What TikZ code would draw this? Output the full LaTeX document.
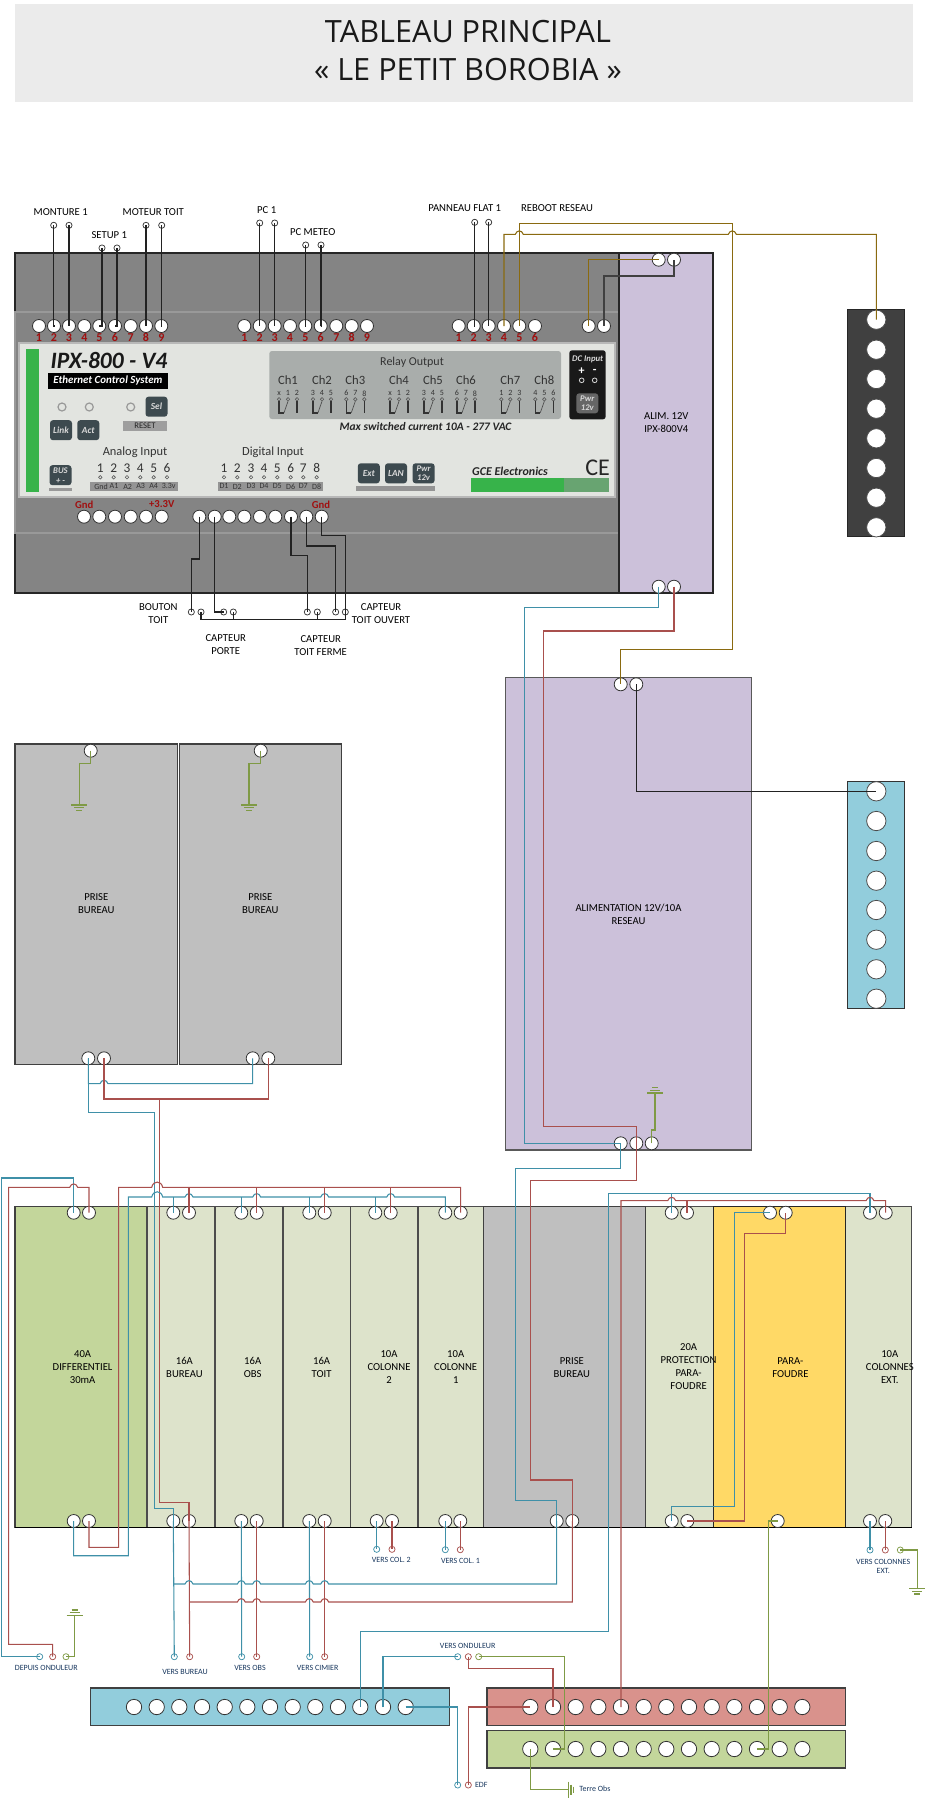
\documentclass[tikz,border=0pt]{standalone}
\usepackage{fontspec}
\setmainfont{Carlito}
\newfontfamily\titlefont{Open Sans}
\definecolor{cBlue}{HTML}{3F90A8}
\definecolor{cRed}{HTML}{A9504D}
\definecolor{cGreen}{HTML}{7F9A45}
\definecolor{cBrown}{HTML}{8A6A10}
\definecolor{cBlack}{HTML}{222222}
\definecolor{fPurple}{HTML}{CCC1DA}
\definecolor{fLight}{HTML}{DDE3CB}
\definecolor{fGreen}{HTML}{C3D69B}
\definecolor{fGrey}{HTML}{BFBFBF}
\definecolor{fYellow}{HTML}{FFD966}
\definecolor{fAqua}{HTML}{92CDDC}
\definecolor{fRose}{HTML}{D9928C}
\definecolor{fDark}{HTML}{404040}
\definecolor{fBody}{HTML}{848484}
\definecolor{fPanel}{HTML}{E2E4E0}
\definecolor{fRelay}{HTML}{A9ADAB}
\definecolor{fBar}{HTML}{37B34A}
\definecolor{fBtn}{HTML}{3D4A4F}
\definecolor{cNum}{HTML}{A01010}
\definecolor{cSmall}{HTML}{17365D}
\tikzset{
  wire/.style={line width=.8pt,line join=miter},
  wblue/.style={wire,draw=cBlue},
  wred/.style={wire,draw=cRed},
  wgreen/.style={wire,draw=cGreen},
  wbrown/.style={wire,draw=cBrown},
  wblack/.style={wire,draw=cBlack},
  boxst/.style={draw=black!75,line width=.8pt},
  term/.style={circle,draw=black!80,fill=white,line width=.6pt,minimum size=9.75pt,inner sep=0pt,outer sep=0pt},
  termb/.style={term,minimum size=11.5pt},
  termc/.style={term,draw=black,minimum size=14.5pt},
  sm/.style={circle,fill=white,line width=.55pt,minimum size=4.6pt,inner sep=0pt,outer sep=0pt},
  lab/.style={font=\fontsize{8}{9.75}\selectfont,align=center,inner sep=0pt,text=black},
  slab/.style={font=\fontsize{6}{6.9}\selectfont,align=center,inner sep=0pt,text=cSmall},
  num/.style={font=\fontsize{9}{9}\selectfont\bfseries,text=cNum,inner sep=0pt},
  pan/.style={inner sep=0pt,text=black!80},
  btn/.style={rounded corners=2.2pt,fill=fBtn,minimum width=16.5pt,minimum height=15pt,inner sep=0pt,text=white!85!black,align=center,font=\fontsize{7}{7}\selectfont\bfseries\itshape},
  led/.style={circle,draw=black!40,fill=fPanel,line width=.9pt,minimum size=6pt,inner sep=0pt},
  pin/.style={circle,draw=black!65,line width=.45pt,minimum size=2.6pt,inner sep=0pt},
}
\def\J#1#2{-- ({#1-4},#2) .. controls ({#1-2.5},{#2-4.5}) and ({#1+2.5},{#2-4.5}) .. ({#1+4},#2)}
\def\JL#1#2#3{-- (#1,#3) .. controls ({#1+1.5},{#3-7}) and ({#2-1.5},{#3-7}) .. (#2,#3)}
\begin{document}
\begin{tikzpicture}[x=0.75pt,y=-0.75pt]
\useasboundingbox (0,0) rectangle (926,1799);
% title
\fill[black!8] (15,4) rectangle (913,102);
\node[inner sep=0pt,align=center,font=\titlefont\fontsize{23}{28.4}\selectfont,text=black!90] (title) at (468,50.5) {TABLEAU PRINCIPAL\\« LE PETIT BOROBIA »};

% IPX body
\path[fill=fBody,draw=black!85,line width=.9pt] (15,253) rectangle (620,593);
\path[fill=fBody,draw=black!40,line width=.8pt] (15,312) rectangle (620,533);
\path[fill=fPanel,draw=black!28,line width=.8pt] (19,343) rectangle (615,497);
\fill[fBar] (26,349.3) rectangle (39.3,491.7);
\node[pan,font=\fontsize{17.6}{18}\selectfont\bfseries\itshape,text=black!90] (nIpx) at (109,360) {IPX-800 - V4};
\node[fill=black,minimum width=90.5pt,minimum height=11.7pt,inner sep=0pt,font=\fontsize{8.2}{9}\selectfont\bfseries\itshape,text=white] (nEth) at (108,381) {Ethernet Control System};
\node[led] (l1) at (62,407) {};
\node[led] (l2) at (89.3,407) {};
\node[led] (l3) at (130.7,407) {};
\node[btn] (bSel) at (156.5,406.7) {Sel};
\node[fill=black!38,minimum width=33.5pt,minimum height=7.2pt,inner sep=0pt,font=\fontsize{6.5}{7}\selectfont,text=black!85] (nRes) at (145,425.8) {RESET};
\node[btn] (bLink) at (61,430.2) {Link};
\node[btn] (bAct) at (88.3,430.2) {Act};
\node[btn,font=\fontsize{6.5}{7.5}\selectfont\bfseries\itshape] (bBus) at (60.5,475.2) {BUS\\+ -};
\fill[black!40] (49.3,488.3) rectangle (71.7,491);
\node[pan,font=\fontsize{9.3}{11}\selectfont] (nAna) at (135,452.7) {Analog Input};
\node[pan,font=\fontsize{9.3}{11}\selectfont] (nDig) at (273,452.7) {Digital Input};
\fill[black!42] (89.7,481.7) rectangle (177.7,491);
\fill[black!42] (218.3,481.7) rectangle (323.3,491);
\foreach \i/\x/\t/\tx in {1/100.3/Gnd/101,2/113.7/A1/114,3/127/A2/127.7,4/140.3/A3/140.7,5/153.7/A4/153.7,6/167/3.3v/168.7}{
  \node[pan,font=\fontsize{10}{10}\selectfont] (an\i) at (\x,468) {\i};
  \node[pin] (ap\i) at (\x,477.3) {};
  \node[pan,font=\fontsize{6}{7}\selectfont] (at\i) at (\tx,486.4) {\t};
}
\foreach \i/\x in {1/224,2/237.3,3/251,4/264,5/277.3,6/290.7,7/303.3,8/316.7}{
  \node[pan,font=\fontsize{10}{10}\selectfont] (dn\i) at (\x,468) {\i};
  \node[pin] (dp\i) at (\x,477.3) {};
  \node[pan,font=\fontsize{6}{7}\selectfont] (dt\i) at (\x,486.4) {D\i};
}
\node[btn] (bExt) at (368.8,473.3) {Ext};
\node[btn] (bLan) at (396,473.3) {LAN};
\node[btn,font=\fontsize{6.5}{7}\selectfont\bfseries\itshape] (bPwr) at (423.6,473.3) {Pwr\\12v};
\fill[black!42] (356,486.3) rectangle (435.3,491.3);
% relay panel
\fill[fRelay,rounded corners=2pt] (269.3,351) rectangle (561,419);
\node[pan,font=\fontsize{9}{11}\selectfont] (nRel) at (412,362) {Relay Output};
\foreach \k/\c/\a/\b/\d in {1/288/x/1/2,2/322/3/4/5,3/355.3/6/7/8,4/399/x/1/2,5/433/3/4/5,6/466/6/7/8,7/510.3/1/2/3,8/544.3/4/5/6}{
  \node[pan,font=\fontsize{9.5}{11}\selectfont] (ch\k) at (\c,380) {Ch\k};
  \node[pan,font=\fontsize{6}{6}\selectfont] (cha\k) at ({\c-9},393.3) {\a};
  \node[pan,font=\fontsize{6}{6}\selectfont] (chb\k) at (\c,393.3) {\b};
  \node[pan,font=\fontsize{6}{6}\selectfont] (chc\k) at ({\c+9},393.3) {\d};
  \node[pin] (rp1\k) at ({\c-9},399.3) {};
  \node[pin] (rp2\k) at (\c,399.3) {};
  \node[pin] (rp3\k) at ({\c+9},399.3) {};
  \draw[black!80,line width=1.2pt] (rp1\k.south) -- ({\c-9},412.7) -- ({\c-4},412.7);
  \draw[black!70,line width=.5pt] ({\c-4},412.7) -- (rp2\k.south);
  \draw[black!80,line width=1.2pt] (rp3\k.south) -- ({\c+9},412.7);
}
\node[pan,font=\fontsize{8.6}{9}\selectfont\bfseries\itshape,text=black!85] (nMax) at (425.5,427) {Max switched current 10A - 277 VAC};
% DC input
\fill[black!90,rounded corners=2pt] (569.3,350.3) rectangle (605.7,419.3);
\node[pan,text=white!85!black,font=\fontsize{6.5}{7}\selectfont\bfseries\itshape] (nDc) at (587.7,359.3) {DC Input};
\node[pan,text=white,font=\fontsize{9}{9}\selectfont\bfseries] (nPl) at (581.7,371.3) {+};
\node[pan,text=white,font=\fontsize{9}{9}\selectfont\bfseries] (nMi) at (594.7,371) {-};
\node[pin,draw=white!85!black,line width=.6pt,minimum size=3.5pt] (dc1) at (581.7,380.3) {};
\node[pin,draw=white!85!black,line width=.6pt,minimum size=3.5pt] (dc2) at (594.7,380.3) {};
\node[btn,fill=black!60,font=\fontsize{6.5}{7}\selectfont\bfseries\itshape] (bP2) at (587.3,403.3) {Pwr\\12v};
\node[pan,font=\fontsize{9}{10}\selectfont\bfseries\itshape,text=black!85] (nGce) at (510,471.7) {GCE Electronics};
\node[pan,font=\fontsize{18}{18}\selectfont,text=black!85] (nCe) at (597.7,468) {CE};
\fill[fBar] (471,478.3) rectangle (564.3,491.7);
\fill[fBar!70!black!70!white] (564.3,478.3) rectangle (609,491.7);

% alim 12V
\path[fill=fPurple,draw=black!85,line width=.9pt] (619,253) rectangle (713,593);
% strips
\path[fill=fDark,draw=black!85,line width=.8pt] (847.7,309.7) rectangle (904.3,536.7);
\path[fill=fAqua,draw=black!80,line width=.8pt] (847.7,781.7) rectangle (904.3,1008.3);
\path[fill=fAqua,draw=black!75,line width=.9pt] (90.3,1688) rectangle (449.3,1725.7);
\path[fill=fRose,draw=black!75,line width=.9pt] (487,1688) rectangle (845.7,1725.7);
\path[fill=fGreen,draw=black!75,line width=.9pt] (487,1730.3) rectangle (845.7,1768);
% alim 10A
\path[fill=fPurple,draw=black!65,line width=.9pt] (505.7,677.7) rectangle (751.3,1150);
% prises
\path[fill=fGrey,draw=black!75,line width=.8pt] (15,744) rectangle (177.7,1064.7);
\path[fill=fGrey,draw=black!75,line width=.8pt] (179.3,744) rectangle (341.7,1064.7);
% main row
\path[fill=fGreen,draw=black!75,line width=.8pt] (15,1206.7) rectangle (147,1527.3);
\foreach \a/\b in {147/215,215/283,283/350.3,350.3/418,418/483.3,645.3/713.3,845.3/911.7}
  \path[fill=fLight,draw=black!70,line width=.8pt] (\a,1206.7) rectangle (\b,1527.3);
\path[fill=fGrey,draw=black!75,line width=.8pt] (483.3,1206.7) rectangle (645.3,1527.3);
\path[fill=fYellow,draw=black!85,line width=.8pt] (713.3,1206.7) rectangle (845.3,1527.3);
\draw[black,line width=.9pt] (15,1527.3) -- (911.7,1527.3);

% terminals
\foreach \i/\x in {1/39,2/54,3/69,4/84.3,5/99.3,6/115,7/130.7,8/146,9/161.3}{\node[term] (a\i) at (\x,326) {};\node[num] (na\i) at (\x,337.5) {\i};}
\foreach \i/\x in {1/244.3,2/259.7,3/274.7,4/290,5/305.3,6/320.7,7/336.3,8/351.7,9/367}{\node[term] (b\i) at (\x,326) {};\node[num] (nb\i) at (\x,337.5) {\i};}
\foreach \i/\x in {1/458.7,2/473.7,3/488.7,4/504,5/519.3,6/535}{\node[term] (c\i) at (\x,326) {};\node[num] (nc\i) at (\x,337.5) {\i};}
\node[term] (p1) at (588.7,326) {};
\node[term] (p2) at (604,326) {};
\node[term] (q1) at (658.7,259.7) {};
\node[term] (q2) at (674,259.7) {};
\node[term] (q3) at (658.7,586.7) {};
\node[term] (q4) at (674,586.7) {};
\foreach \i/\x in {1/84,2/99.3,3/115,4/130.7,5/146,6/161.7}{\node[term] (u\i) at (\x,516.7) {};}
\foreach \i/\x in {1/199.3,2/214.7,3/229.3,4/244.3,5/260,6/275.3,7/291,8/306.3,9/321.7}{\node[term] (v\i) at (\x,516.7) {};}
\node[num,font=\fontsize{8}{8}\selectfont\bfseries] (ng1) at (84.3,504.3) {Gnd};
\node[num,font=\fontsize{8}{8}\selectfont\bfseries] (ng2) at (161.7,504.3) {+3.3V};
\node[num,font=\fontsize{8}{8}\selectfont\bfseries] (ng3) at (321,504.3) {Gnd};
% strips terminals
\foreach \i/\y in {1/319.7,2/349.7,3/379,4/408.7,5/438.3,6/468,7/497.7,8/527.3}{\node[termc,draw=black!70,minimum size=14.5pt] (k\i) at (876.3,\y) {};}
\foreach \i/\y in {1/791.3,2/821,3/851,4/880.7,5/910,6/939.7,7/969.3,8/998.7}{\node[termc,draw=black!70] (m\i) at (876.3,\y) {};}
\foreach \i/\x in {1/134,2/156.7,3/179.3,4/202,5/224.7,6/247.3,7/270,8/292.7,9/315.3,10/338,11/360.3,12/383,13/405.7}{\node[termb] (sb\i) at (\x,1707) {};}
\foreach \i/\x in {1/530.3,2/553,3/575.7,4/598.3,5/621,6/643.7,7/666.3,8/689,9/711.7,10/734.3,11/757,12/779.7,13/802.3}{\node[termb] (sr\i) at (\x,1707) {};\node[termb] (sg\i) at (\x,1749) {};}
% box terminals
\node[term] (r1) at (620.7,684.3) {};
\node[term] (r2) at (636.3,684.3) {};
\node[term] (r3) at (620.7,1143.3) {};
\node[term] (r4) at (636.3,1143.3) {};
\node[term] (r5) at (651.7,1143.3) {};
\node[term] (e1) at (90.7,750.7) {};
\node[term] (e2) at (260.7,750.7) {};
\node[term] (e3) at (88.3,1058.3) {};
\node[term] (e4) at (104,1058.3) {};
\node[term] (e5) at (252.7,1058.3) {};
\node[term] (e6) at (268.3,1058.3) {};
\foreach \n/\x in {1/73.7,2/89,3/173.3,4/189,5/241.3,6/256.7,7/309.3,8/324.7,9/375.3,10/390.7,11/445.3,12/460.7,13/671.7,14/687,15/770,16/785.7,17/870,18/885.7}{\node[term] (t\n) at (\x,1212.7) {};}
\foreach \n/\x in {1/73.7,2/89,3/173.3,4/189,5/241.3,6/256.7,7/309.3,8/324.7,9/376.7,10/392,11/445.3,12/460.3,13/556.7,14/572.3,15/671.7,16/687.3,17/777.7,18/870,19/885.3}{\node[term] (d\n) at (\x,1521) {};}

% small circles: top
\foreach \n/\x/\y in {1/53.7/225.3,2/69/225.3,3/102/248,4/117/248,5/146/225.3,6/161.7/225.3,7/259.7/223,8/274.7/223,9/305.7/245,10/321/245,11/474.7/222.3,12/488.7/222.3,13/191.3/612,14/201/612,15/223.7/612,16/233.3/612,17/307.3/612,18/317.3/612,19/335.7/612,20/345.3/612}{\node[sm,draw=black!80] (s\n) at (\x,\y) {};}
% small circles: coloured
\node[sm,draw=cBlue] (o1) at (39.7,1656.7) {};
\node[sm,draw=cRed] (o2) at (52.7,1656.7) {};
\node[sm,draw=cGreen] (o3) at (66,1656.7) {};
\node[sm,draw=cBlue] (o4) at (174.3,1656.7) {};
\node[sm,draw=cRed] (o5) at (189.7,1656.7) {};
\node[sm,draw=cBlue] (o6) at (241.7,1656.7) {};
\node[sm,draw=cRed] (o7) at (256.7,1656.7) {};
\node[sm,draw=cBlue] (o8) at (309.7,1656.7) {};
\node[sm,draw=cRed] (o9) at (324.7,1656.7) {};
\node[sm,draw=cBlue] (o10) at (376.7,1549.3) {};
\node[sm,draw=cRed] (o11) at (392,1549.3) {};
\node[sm,draw=cBlue] (o12) at (445.3,1549.7) {};
\node[sm,draw=cRed] (o13) at (460.3,1549.7) {};
\node[sm,draw=cBlue] (o14) at (870,1550) {};
\node[sm,draw=cRed] (o15) at (885.3,1550) {};
\node[sm,draw=cGreen] (o16) at (900.3,1550) {};
\node[sm,draw=cBlue] (o17) at (457.7,1656.7) {};
\node[sm,draw=cRed] (o18) at (468.3,1656.7) {};
\node[sm,draw=cGreen] (o19) at (478.7,1656.7) {};
\node[sm,draw=cBlue] (o20) at (457.7,1785) {};
\node[sm,draw=cRed] (o21) at (468.3,1785) {};

% black wires top
\foreach \p/\q in {s1/a2,s2/a3,s3/a5,s4/a6,s5/a8,s6/a9,s7/b2,s8/b3,s9/b5,s10/b6,s11/c2,s12/c3}
  \draw[wblack] (\p.center) -- (\p.center |- \q.center) -- (\q.center);
% bottom sensor wires
\draw[wblack] (v1.center) |- (s13.center |- 0,559) -- (s13.center);
\draw[wblack] (v2.center) |- (s15.center);
\draw[wblack] (v7.center) |- (s17.center |- 0,555.3) -- (s17.center);
\draw[wblack] (v8.center) |- (s19.center |- 0,546) -- (s19.center);
\draw[wblack] (v9.center) |- (s20.center |- 0,535.7) -- (s20.center);
\draw[wblack] (s14.center) |- (s20.center |- 0,619.3) -- (s20.center);
\draw[wblack] (s16.center) -- (s16.center |- 0,619.3);
\draw[wblack] (s18.center) -- (s18.center |- 0,619.3);
% power
\draw[wbrown] (p1.center) |- (q1.center);
\draw[wblack,draw=black!75] (p2.center) |- (q2.center |- 0,276) -- (q2.center);
% brown long wires
\draw[wbrown] (c5.center) |- (732.3,223.3) -- (732.3,649.3) -| (r1.center);
\draw[wbrown] (c4.center) |- (515.3,234.3) \J{519.3}{234.3} \J{732.3}{234.3} -| (k1.center);
% aqua strip wire
\draw[wblack] (r2.center) |- (m1.center);
% alim blue/red
\draw[wblue] (q3.center) |- (524.7,607.3) |- (r3.center);
\draw[wred] (q4.center) |- (543.7,631) |- (r4.center |- 0,1126.3) -- (r4.center);
\draw[wblue] (r3.center) |- (515.7,1168.7) |- (d13.center |- 0,1500.3) -- (d13.center);
\draw[wred] (r4.center) |- (530.7,1180.7) |- (d14.center |- 0,1480) -- (d14.center);
% alim ground
\draw[wgreen] (r5.center) |- (655,1130) -- (655,1093);
\coordinate (gAlim) at (655,1093);
\draw[wgreen,shift={(gAlim)}] (-8,0) -- (8,0) (-5,-2.7) -- (5,-2.7) (-3,-5.3) -- (3,-5.3);
% prises ground
\coordinate (g1) at (79.3,805);
\coordinate (g2) at (249,805);
\draw[wgreen] (e1.center) |- (g1 |- 0,763.7) -- (g1);
\draw[wgreen] (e2.center) |- (g2 |- 0,763.7) -- (g2);
\draw[wgreen,shift={(g1)}] (-8,0) -- (8,0) (-5,2.7) -- (5,2.7) (-3,5.3) -- (3,5.3);
\draw[wgreen,shift={(g2)}] (-8,0) -- (8,0) (-5,2.7) -- (5,2.7) (-3,5.3) -- (3,5.3);
% prises feed
\draw[wblue] (e3.center) -- (88.3,1083.7) \J{104}{1083.7} -- (252.7,1083.7) -- (e5.center);
\draw[wred] (e4.center) |- (e6.center |- 0,1099) -- (e6.center);
\draw[wblue] (e3.center) |- (154.7,1112.3) |- (d3.center |- 0,1508.3) -- (d3.center);
\draw[wred] (159.7,1099) |- (d4.center |- 0,1502.7) -- (d4.center);
% main bus
\draw[wred] (d2.center) |- (118.7,1547.3) |- (151.7,1187.3) \JL{151.7}{162.7}{1187.3} -- (t12.center |- 0,1187.3) -- (t12.center);
\draw[wblue] (d1.center) |- (128.3,1555.7) |- (151.7,1197) \JL{151.7}{162.7}{1197} \J{189}{1197} \J{256.7}{1197} \J{324.7}{1197} \J{390.7}{1197} -- (t11.center |- 0,1197) -- (t11.center);
\foreach \n in {4,6,8,10}{\draw[wred] (t\n.center |- 0,1187.3) -- (t\n.center);}
\foreach \n in {3,5,7,9}{\draw[wblue] (t\n.center |- 0,1197) -- (t\n.center);}
% entry
\draw[wblue] (o1.center) -| (1.7,1178) -| (t1.center);
\draw[wred] (o2.center) |- (8.7,1644.3) |- (69.7,1187.3) \J{73.7}{1187.3} -- (89,1187.3) -- (t2.center);
\draw[wgreen] (o3.center) -| (74.7,1615.3);
\coordinate (gOnd) at (74.7,1615.3);
\draw[wgreen,shift={(gOnd)}] (-8,0) -- (8,0) (-5,-2.7) -- (5,-2.7) (-3,-5.3) -- (3,-5.3);
% bottom verticals
\foreach \a/\b in {d3/o4,d5/o6,d7/o8,d9/o10,d11/o12}{\draw[wblue] (\a.center) -- (\b.center);}
\foreach \a/\b in {d4/o5,d6/o7,d8/o9,d10/o11,d12/o13}{\draw[wred] (\a.center) -- (\b.center);}
\draw[wblue] (d18.center) -- (o14.center);
\draw[wred] (d19.center) -- (o15.center);
\draw[wgreen] (o16.center) -| (917.3,1588.7);
\coordinate (gExt) at (917.3,1588.7);
\draw[wgreen,shift={(gExt)}] (-8,0) -- (8,0) (-5,2.7) -- (5,2.7) (-3,5.3) -- (3,5.3);
% lower buses
\draw[wblue] (d3.center |- 0,1584) \J{189}{1584} \J{241.3}{1584} \J{256.7}{1584} \J{309.3}{1584} \J{324.7}{1584} -- (d13.center |- 0,1584) -- (d13.center);
\draw[wred] (d4.center |- 0,1602) \J{241.3}{1602} \J{256.7}{1602} \J{309.3}{1602} \J{324.7}{1602} -- (d14.center |- 0,1602) -- (d14.center);
% long feeds
\draw[wblue] (sb11.center) |- (608.3,1631.3) |- (866,1193.7) -- (870,1193.7) -- (t17.center);
\draw[wblue] (t13.center |- 0,1193.7) -- (t13.center);
\draw[wred] (sr5.center) |- (667.7,1200.7) \J{671.7}{1200.7} \J{870}{1200.7} -- (t18.center |- 0,1200.7) -- (t18.center);
\draw[wred] (t14.center |- 0,1200.7) -- (t14.center);
% para-foudre
\draw[wblue] (d15.center) |- (734.3,1506.7) |- (t15.center);
\draw[wred] (d16.center) -| (744.3,1233.7) -| (t16.center);
\draw[wgreen] (sg11.center) -| (768.7,1521) -- (d17.center);
% strip links
\draw[wblue] (sb12.center) |- (o17.center);
\draw[wred] (o18.center) |- (sr2.center |- 0,1668.7) -- (sr2.center);
\draw[wgreen] (o19.center) -| (564.3,1749) -- (sg2.center);
\draw[wblue] (sb13.center) -| (o20.center);
\draw[wred] (o21.center) |- (sr1.center);
\coordinate (gT) at (568.3,1789.7);
\draw[wgreen] (sg1.center) |- (gT);
\draw[wgreen,shift={(gT)}] (0,-8) -- (0,8) (2.7,-5) -- (2.7,5) (5.3,-3) -- (5.3,3);

% labels
\node[lab] (x1) at (60.7,211.7) {MONTURE 1};
\node[lab] (x2) at (109.3,234.7) {SETUP 1};
\node[lab] (x3) at (153.3,211.7) {MOTEUR TOIT};
\node[lab] (x4) at (266.7,209.7) {PC 1};
\node[lab] (x5) at (312.7,231.7) {PC METEO};
\node[lab] (x6) at (464.7,207.7) {PANNEAU FLAT 1};
\node[lab] (x7) at (557,207.7) {REBOOT RESEAU};
\node[lab] (x8) at (666.3,423) {ALIM.  12V\\IPX-800V4};
\node[lab] (x9) at (158.3,613.5) {BOUTON\\TOIT};
\node[lab] (x10) at (225.7,644.8) {CAPTEUR\\PORTE};
\node[lab] (x11) at (320.7,646) {CAPTEUR\\TOIT FERME};
\node[lab] (x12) at (381,613.5) {CAPTEUR\\TOIT OUVERT};
\node[lab] (x13) at (628.5,914) {ALIMENTATION 12V/10A\\RESEAU};
\node[lab] (x14) at (96.3,903.8) {PRISE\\BUREAU};
\node[lab] (x15) at (260.3,903.8) {PRISE\\BUREAU};
\node[lab] (x16) at (82.6,1366.7) {40A\\DIFFERENTIEL\\30mA};
\node[lab] (x17) at (184.4,1367.2) {16A\\BUREAU};
\node[lab] (x18) at (252.7,1367.2) {16A\\OBS};
\node[lab] (x19) at (321.6,1367.2) {16A\\TOIT};
\node[lab] (x20) at (389,1366.7) {10A\\COLONNE\\2};
\node[lab] (x21) at (455.7,1366.7) {10A\\COLONNE\\1};
\node[lab] (x22) at (571.8,1367.2) {PRISE\\BUREAU};
\node[lab] (x23) at (688.6,1366.7) {20A\\PROTECTION\\PARA-\\FOUDRE};
\node[lab] (x24) at (790.4,1367.2) {PARA-\\FOUDRE};
\node[lab] (x25) at (889.8,1366.7) {10A\\COLONNES\\EXT.};
\node[slab] (y1) at (46.3,1668.3) {DEPUIS ONDULEUR};
\node[slab] (y2) at (185,1672.3) {VERS BUREAU};
\node[slab] (y3) at (250,1668.3) {VERS OBS};
\node[slab] (y4) at (317.7,1668.3) {VERS CIMIER};
\node[slab] (y5) at (391.3,1560.3) {VERS COL. 2};
\node[slab] (y6) at (460.5,1561.3) {VERS COL. 1};
\node[slab] (y7) at (883.2,1566.8) {VERS COLONNES\\EXT.};
\node[slab] (y8) at (467.7,1646.3) {VERS ONDULEUR};
\node[slab] (y9) at (481.3,1784.7) {EDF};
\node[slab] (y10) at (595,1788.3) {Terre Obs};
\end{tikzpicture}
\end{document}
